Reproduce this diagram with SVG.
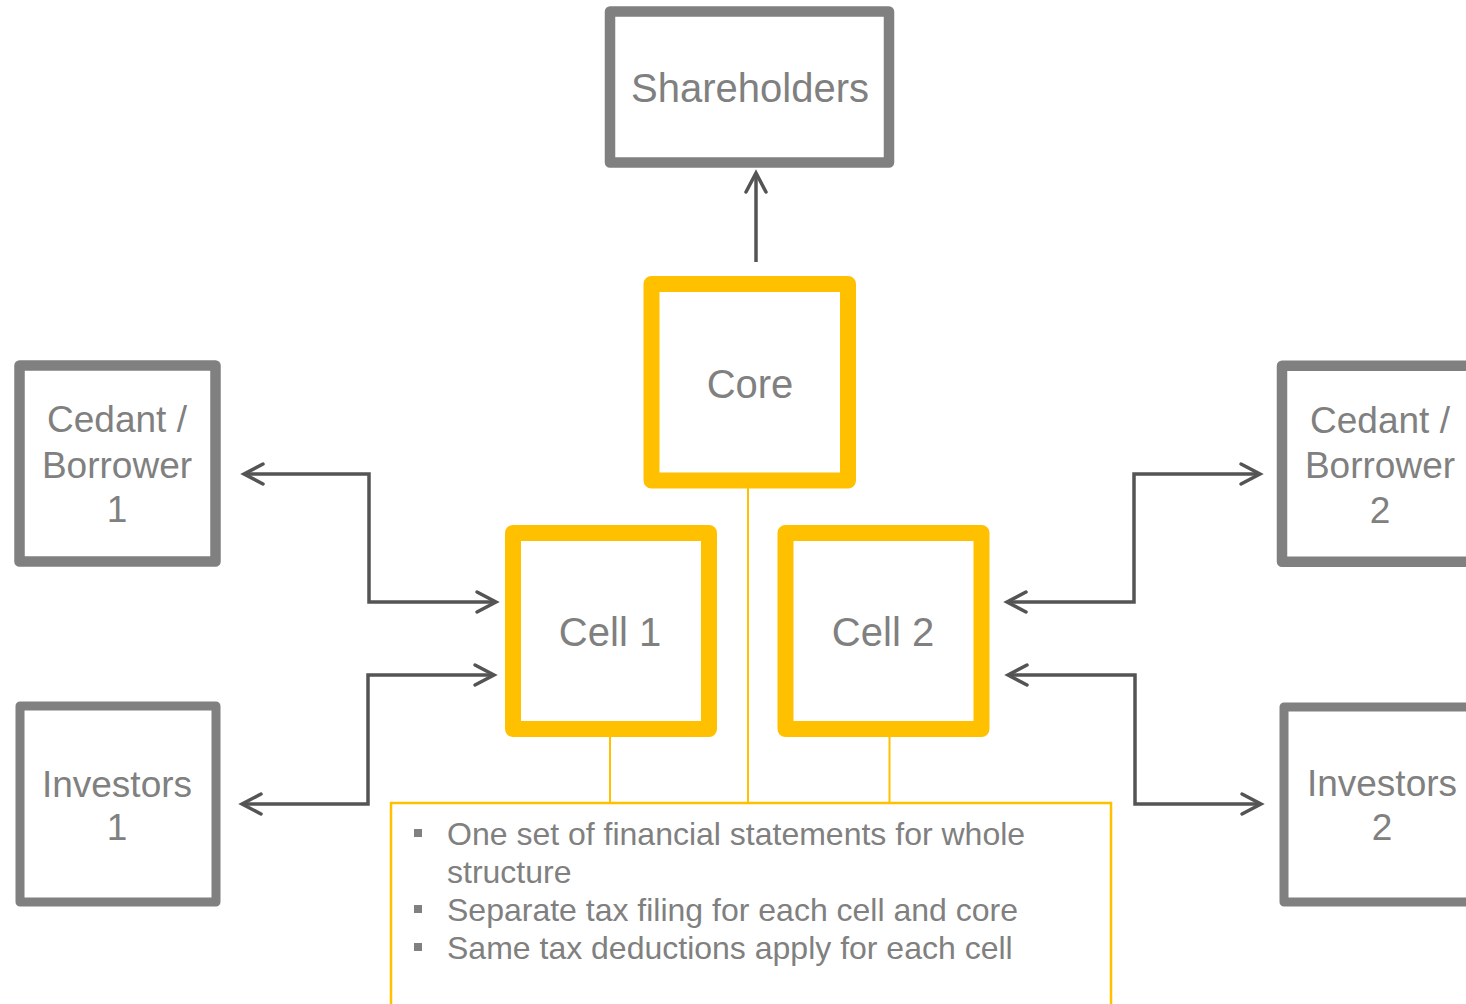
<svg xmlns="http://www.w3.org/2000/svg" width="1466" height="1004" viewBox="0 0 1466 1004">
<style>
.gbox{fill:#fff;stroke:#808080;stroke-width:10.5;stroke-linejoin:round}
.ybox{fill:#fff;stroke:#FFC000;stroke-width:16;stroke-linejoin:round}
.lbl{font-family:"Liberation Sans",Arial,sans-serif;fill:#808080;text-anchor:middle}
.big{font-size:40px}
.mid{font-size:37px}
.conn{fill:none;stroke:#545454;stroke-width:3.5;stroke-linejoin:miter}
.yl{fill:none;stroke:#FFC000;stroke-width:2}
.note{font-family:"Liberation Sans",Arial,sans-serif;font-size:32px;fill:#808080}
.bul{fill:#808080}
</style>
<defs>
<marker id="ah" markerUnits="userSpaceOnUse" viewBox="-24 -14 28 28" refX="0" refY="0" markerWidth="28" markerHeight="28" orient="auto-start-reverse">
<path d="M -19 -10 L 0 0 L -19 10" fill="none" stroke="#545454" stroke-width="3.5" stroke-linecap="round" stroke-linejoin="miter"/>
</marker>
</defs>
<rect width="1466" height="1004" fill="#fff"/>
<g id="connectors">
<path class="yl" d="M 748 488 V 803"/>
<path class="yl" d="M 610 737 V 803"/>
<path class="yl" d="M 889.5 737 V 803"/>
<path class="conn" d="M 756 262 V 173" marker-end="url(#ah)"/>
<path class="conn" d="M 244 474 H 369 V 602 H 496" marker-start="url(#ah)" marker-end="url(#ah)"/>
<path class="conn" d="M 494 675 H 368 V 804 H 242" marker-start="url(#ah)" marker-end="url(#ah)"/>
<path class="conn" d="M 1007 602 H 1134 V 474 H 1260" marker-start="url(#ah)" marker-end="url(#ah)"/>
<path class="conn" d="M 1008 675 H 1135 V 804 H 1261" marker-start="url(#ah)" marker-end="url(#ah)"/>
</g>
<g id="shareholders">
<rect class="gbox" x="610" y="11.5" width="279" height="151"/>
<text class="lbl big" x="750" y="102">Shareholders</text>
</g>
<g id="core">
<rect class="ybox" x="651.5" y="284" width="196.5" height="196.5"/>
<text class="lbl big" x="750" y="398">Core</text>
</g>
<g id="cell1">
<rect class="ybox" x="513" y="533" width="196" height="196"/>
<text class="lbl big" x="610" y="646">Cell 1</text>
</g>
<g id="cell2">
<rect class="ybox" x="785.5" y="533" width="196" height="196"/>
<text class="lbl big" x="883" y="646">Cell 2</text>
</g>
<g id="cedant1">
<rect class="gbox" x="19.5" y="365.5" width="196" height="196"/>
<text class="lbl mid" x="117" y="432">Cedant /</text>
<text class="lbl mid" x="117" y="478">Borrower</text>
<text class="lbl mid" x="117" y="522">1</text>
</g>
<g id="investors1">
<rect class="gbox" x="20" y="706" width="196" height="196" style="stroke-width:9"/>
<text class="lbl mid" x="117" y="797">Investors</text>
<text class="lbl mid" x="117" y="840">1</text>
</g>
<g id="cedant2">
<rect class="gbox" x="1282" y="365.7" width="196" height="196"/>
<text class="lbl mid" x="1380" y="433">Cedant /</text>
<text class="lbl mid" x="1380" y="478">Borrower</text>
<text class="lbl mid" x="1380" y="523">2</text>
</g>
<g id="investors2">
<rect class="gbox" x="1284" y="707" width="196" height="195" style="stroke-width:9"/>
<text class="lbl mid" x="1382" y="796">Investors</text>
<text class="lbl mid" x="1382" y="840">2</text>
</g>
<g id="notes">
<rect x="391" y="803" width="720" height="260" fill="none" stroke="#FFC000" stroke-width="2.5"/>
<rect class="bul" x="414" y="829" width="8" height="8"/>
<rect class="bul" x="414" y="905" width="8" height="8"/>
<rect class="bul" x="414" y="943" width="8" height="8"/>
<text class="note" x="447" y="845">One set of financial statements for whole</text>
<text class="note" x="447" y="883">structure</text>
<text class="note" x="447" y="921">Separate tax filing for each cell and core</text>
<text class="note" x="447" y="959">Same tax deductions apply for each cell</text>
</g>
</svg>
